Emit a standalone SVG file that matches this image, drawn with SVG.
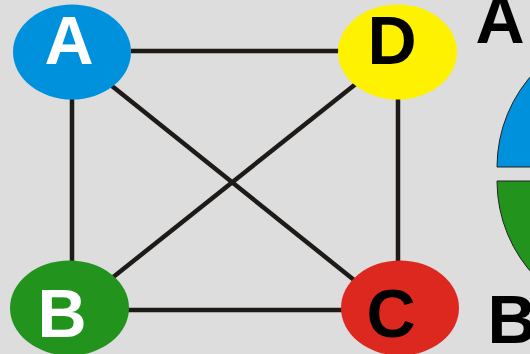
<svg xmlns="http://www.w3.org/2000/svg" width="530" height="354" viewBox="0 0 530 354">
<style>
.edge{stroke:#1e1a18;stroke-width:4.5;fill:none}
.lbl{font-family:"Liberation Sans",Arial,sans-serif;font-weight:bold;font-size:68px;text-anchor:middle}
.slice{stroke:#222;stroke-width:1}
</style>
<rect width="530" height="354" fill="#dddddd"/>
<g id="connectors">
<line class="edge" x1="131" y1="51" x2="339" y2="51"/>
<line class="edge" x1="72" y1="98" x2="72" y2="262"/>
<line class="edge" x1="398" y1="98" x2="398" y2="262"/>
<line class="edge" x1="128" y1="310" x2="342" y2="310"/>
<line class="edge" x1="112" y1="86" x2="359" y2="284"/>
<line class="edge" x1="357" y1="83" x2="112" y2="278"/>
</g>
<g id="node-A">
<ellipse cx="72" cy="52" rx="59" ry="47.5" fill="#0091dc"/>
<text class="lbl" x="69" y="64" fill="#ffffff">A</text>
</g>
<g id="node-D">
<ellipse cx="397.5" cy="52" rx="59.5" ry="47.5" fill="#fff200"/>
<text class="lbl" x="392" y="64" fill="#000000">D</text>
</g>
<g id="node-B">
<ellipse cx="69.5" cy="308" rx="59.5" ry="47.5" fill="#22941d"/>
<text class="lbl" x="62" y="337" fill="#ffffff">B</text>
</g>
<g id="node-C">
<ellipse cx="400" cy="308" rx="59" ry="47.5" fill="#dc281e"/>
<text class="lbl" x="391" y="337" fill="#000000">C</text>
</g>
<g id="legend">
<path class="slice" d="M636,167 L497,167 A139,139 0 0 1 636,28 Z" fill="#0091dc"/>
<path class="slice" d="M636,181 L497,181 A139,139 0 0 0 636,320 Z" fill="#22941d"/>
<text class="lbl" x="500" y="43" fill="#000000">A</text>
<text class="lbl" x="512" y="343" fill="#000000">B</text>
</g>
</svg>
